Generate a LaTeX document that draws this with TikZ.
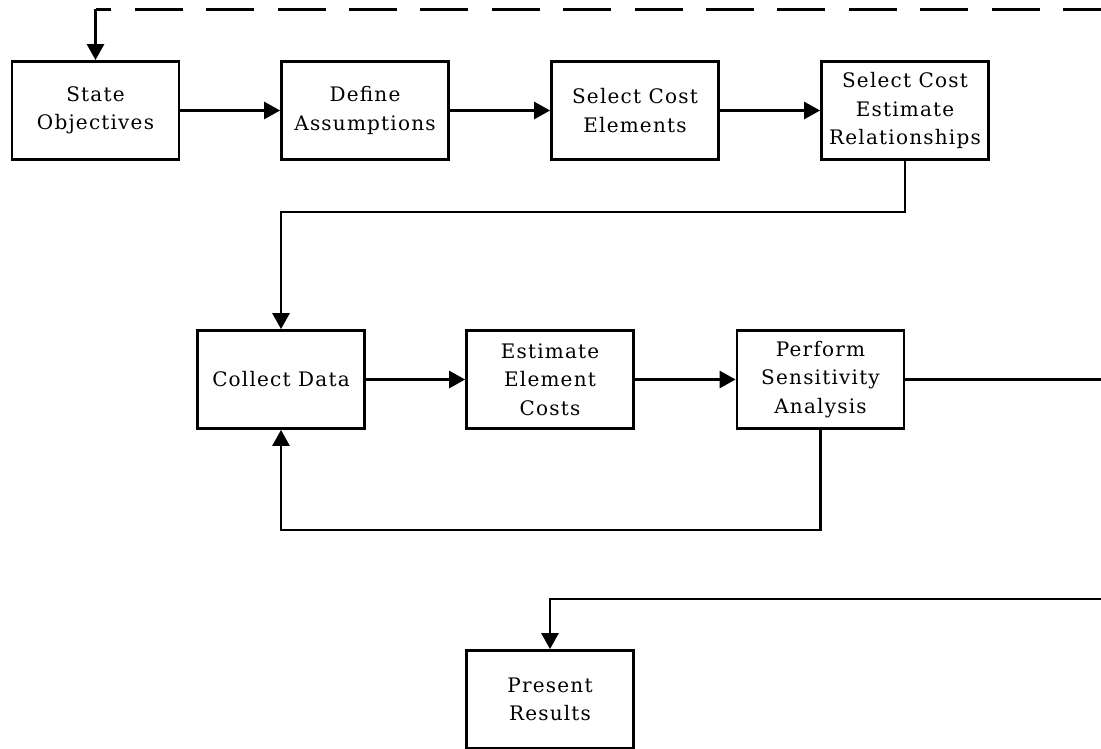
\documentclass[tikz,border=0pt]{standalone}
\usepackage{fontspec}
\setmainfont{DejaVu Serif}[LetterSpace=6]
\usetikzlibrary{arrows.meta}
\begin{document}
\begin{tikzpicture}[x=1pt,y=-1pt,
  box/.style={draw, line width=2.8pt, inner sep=0pt, align=center,
    minimum width=167pt, minimum height=98pt, font=\fontsize{20}{28.5}\selectfont},
  conn/.style={line width=2.8pt, -{Triangle[length=16pt,width=17pt]}},
  plain/.style={line width=2.8pt},
  dashline/.style={line width=2.8pt, dash pattern=on 48pt off 23.4pt, dash phase=10pt}]
\useasboundingbox (0,0) rectangle (1101,749);
\node[box] (so) at (95.5,110.5) {State\\Objectives};
\node[box] (da) at (365,110.5) {Define\\Assumptions};
\node[box] (sce) at (635,110.5) {Select Cost\\Elements};
\node[box] (scer) at (905,110.5) {Select Cost\\Estimate\\Relationships};
\node[box] (cd) at (281,379.5) {Collect Data};
\node[box] (eec) at (550,379.5) {Estimate\\Element\\Costs};
\node[box] (psa) at (820.5,379.5) {Perform\\Sensitivity\\Analysis};
\node[box] (pr) at (550,699.5) {Present\\Results};
\coordinate (dtop) at (1101,9.5);
\coordinate (dcorner) at (95.5,9.5);
\coordinate (rmid) at (1101,379.5);
\coordinate (rlow) at (1101,599);
\draw[conn] (so) -- (da);
\draw[conn] (da) -- (sce);
\draw[conn] (sce) -- (scer);
\draw[conn] (scer.south) |- (cd.north |- 0,212) -- (cd.north);
\draw[conn] (cd) -- (eec);
\draw[conn] (eec) -- (psa);
\draw[plain] (psa) -- (rmid);
\draw[conn] (psa.south) |- (cd.south |- 0,530) -- (cd.south);
\draw[conn] (rlow) -| (pr.north);
\draw[dashline] (dtop) -- (dcorner);
\draw[conn] (dcorner) -- (so.north);
\end{tikzpicture}
\end{document}
